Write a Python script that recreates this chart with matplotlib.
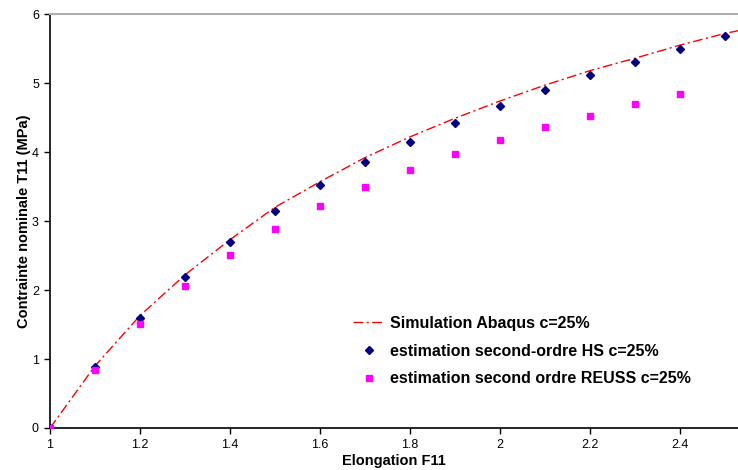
import numpy as np
import matplotlib.pyplot as plt

plt.rcParams['font.family'] = ['Liberation Sans', 'DejaVu Sans']

# Abaqus simulation curve
x_abaqus = [1.0, 1.1, 1.2, 1.3, 1.4, 1.5, 1.6, 1.7, 1.8, 1.9, 2.0, 2.1, 2.2, 2.3, 2.4, 2.5, 2.53]
y_abaqus = [0.0, 0.90, 1.63, 2.22, 2.73, 3.20, 3.57, 3.92, 4.22, 4.49, 4.74, 4.97, 5.18, 5.36, 5.55, 5.72, 5.76]

# second-order HS estimate
x_hs = [1.0, 1.1, 1.2, 1.3, 1.4, 1.5, 1.6, 1.7, 1.8, 1.9, 2.0, 2.1, 2.2, 2.3, 2.4, 2.5]
y_hs = [0.0, 0.88, 1.59, 2.19, 2.70, 3.14, 3.52, 3.85, 4.15, 4.42, 4.67, 4.90, 5.11, 5.31, 5.50, 5.68]

# second-order REUSS estimate
x_reuss = [1.0, 1.1, 1.2, 1.3, 1.4, 1.5, 1.6, 1.7, 1.8, 1.9, 2.0, 2.1, 2.2, 2.3, 2.4]
y_reuss = [0.0, 0.84, 1.51, 2.06, 2.51, 2.89, 3.22, 3.50, 3.74, 3.97, 4.17, 4.36, 4.53, 4.70, 4.84]

fig = plt.figure(figsize=(7.38, 4.70), dpi=100)
ax = fig.add_axes([0.0678, 0.0894, 0.9322, 0.8806])

ax.plot(x_abaqus, y_abaqus, color='red', lw=1, dashes=(7, 2.5, 1.5, 2.5),
        label='Simulation Abaqus c=25%', zorder=2)
ax.plot(x_hs, y_hs, ls='none', marker='D', ms=4.5, color='#000080',
        label='estimation second-ordre HS c=25%', zorder=3)
ax.plot(x_reuss, y_reuss, ls='none', marker='s', ms=4.5, color='#ff00ff',
        label='estimation second ordre REUSS c=25%', zorder=3)

ax.set_xlim(1, 2.529)
ax.set_ylim(0, 6)
ax.set_xticks([1, 1.2, 1.4, 1.6, 1.8, 2, 2.2, 2.4])
ax.set_xticklabels(['1', '1.2', '1.4', '1.6', '1.8', '2', '2.2', '2.4'])
ax.set_yticks(range(0, 7))
ax.tick_params(labelsize=9, length=4, width=1, color='black', pad=4)

ax.spines['right'].set_visible(False)
ax.spines['top'].set_color('#b0b0b0')
ax.spines['top'].set_linewidth(1.5)
ax.spines['left'].set_linewidth(1.2)
ax.spines['bottom'].set_linewidth(1.2)

ax.set_xlabel('Elongation F11', fontsize=10.5, fontweight='bold', labelpad=2)
ax.set_ylabel('Contrainte nominale T11 (MPa)', fontsize=10.5, fontweight='bold', labelpad=1)

leg = ax.legend(loc='lower left', bbox_to_anchor=(0.42, 0.066), frameon=False,
                prop={'weight': 'bold', 'size': 11.5}, handlelength=2.0,
                labelspacing=0.8, handletextpad=0.3)

fig.savefig('out.png', dpi=100)
